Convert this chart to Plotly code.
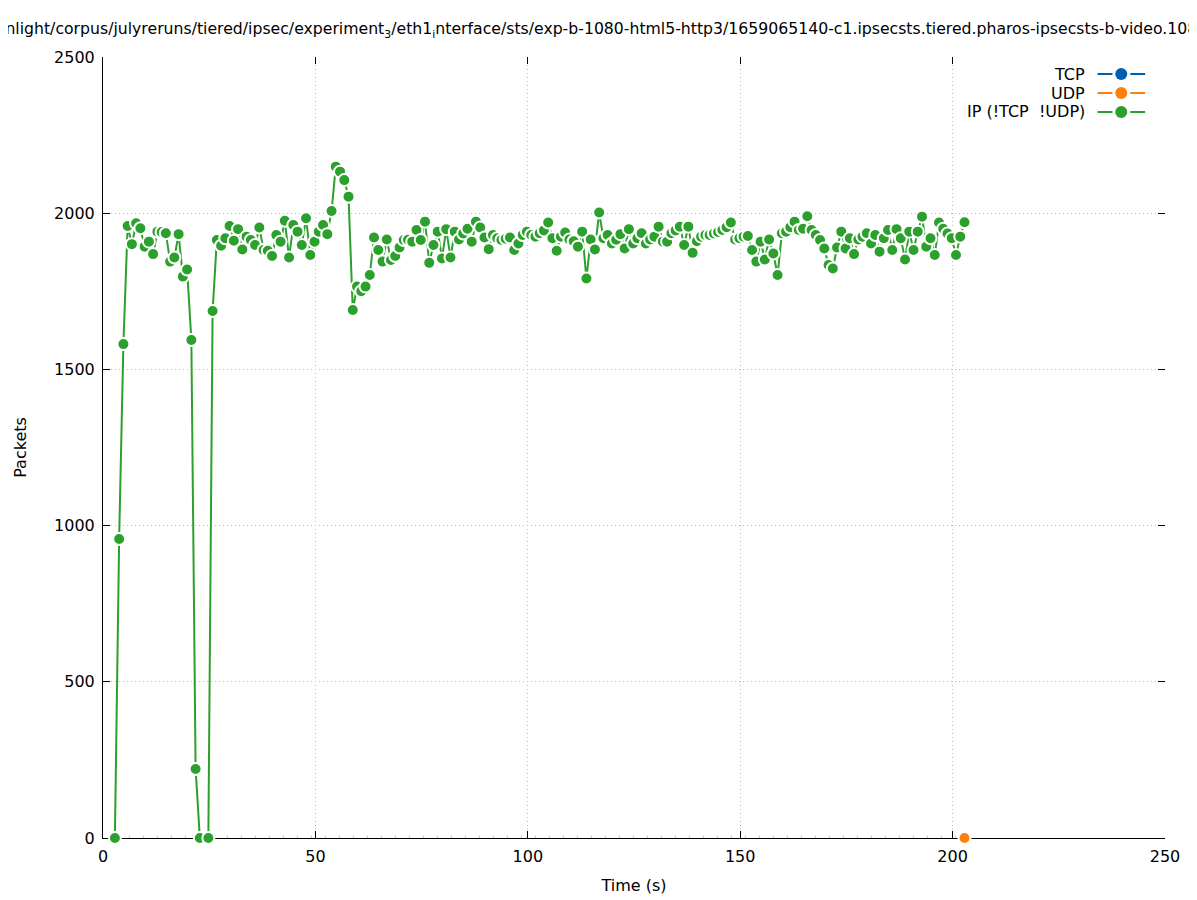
import plotly.graph_objects as go

# ---------------- data ----------------
times = [
    2.8, 3.8, 4.8, 5.8, 6.8, 7.8, 8.8, 9.8, 10.8, 11.8,
    12.8, 13.8, 14.8, 15.8, 16.8, 17.8, 18.8, 19.8, 20.8, 21.8,
    22.8, 24.8, 25.8, 26.8, 27.8, 28.8, 29.8, 30.8, 31.8,
    32.8, 33.8, 34.8, 35.8, 36.8, 37.8, 38.8, 39.8, 40.8, 41.8,
    42.8, 43.8, 44.8, 45.8, 46.8, 47.8, 48.8, 49.8, 50.8, 51.8,
    52.8, 53.8, 54.8, 55.8, 56.8, 57.8, 58.8, 59.8, 60.8, 61.8,
    62.8, 63.8, 64.8, 65.8, 66.8, 67.8, 68.8, 69.8, 70.8, 71.8,
    72.8, 73.8, 74.8, 75.8, 76.8, 77.8, 78.8, 79.8, 80.8, 81.8,
    82.8, 83.8, 84.8, 85.8, 86.8, 87.8, 88.8, 89.8, 90.8, 91.8,
    92.8, 93.8, 94.8, 95.8, 96.8, 97.8, 98.8, 99.8, 100.8, 101.8,
    102.8, 103.8, 104.8, 105.8, 106.8, 107.8, 108.8, 109.8, 110.8, 111.8,
    112.8, 113.8, 114.8, 115.8, 116.8, 117.8, 118.8, 119.8, 120.8, 121.8,
    122.8, 123.8, 124.8, 125.8, 126.8, 127.8, 128.8, 129.8, 130.8, 131.8,
    132.8, 133.8, 134.8, 135.8, 136.8, 137.8, 138.8, 139.8, 140.8, 141.8,
    142.8, 143.8, 144.8, 145.8, 146.8, 147.8, 148.8, 149.8, 150.8, 151.8,
    152.8, 153.8, 154.8, 155.8, 156.8, 157.8, 158.8, 159.8, 160.8, 161.8,
    162.8, 163.8, 164.8, 165.8, 166.8, 167.8, 168.8, 169.8, 170.8, 171.8,
    172.8, 173.8, 174.8, 175.8, 176.8, 177.8, 178.8, 179.8, 180.8, 181.8,
    182.8, 183.8, 184.8, 185.8, 186.8, 187.8, 188.8, 189.8, 190.8, 191.8,
    192.8, 193.8, 194.8, 195.8, 196.8, 197.8, 198.8, 199.8, 200.8, 201.8,
    202.8,
]

ip_packets = [
    0, 957, 1581, 1959, 1901, 1968, 1952, 1893, 1909, 1869,
    1941, 1940, 1936, 1845, 1858, 1933, 1797, 1820, 1594, 221,
    0, 0, 1687, 1914, 1896, 1920, 1959, 1912, 1949,
    1884, 1925, 1914, 1898, 1954, 1882, 1880, 1863, 1930, 1909,
    1976, 1858, 1962, 1941, 1898, 1984, 1866, 1909, 1941, 1962,
    1933, 2007, 2149, 2133, 2106, 2053, 1690, 1765, 1750, 1765,
    1802, 1922, 1882, 1845, 1916, 1850, 1863, 1890, 1914, 1915,
    1909, 1946, 1914, 1973, 1841, 1898, 1941, 1855, 1949, 1858,
    1941, 1916, 1935, 1950, 1909, 1973, 1954, 1922, 1885, 1930,
    1920, 1914, 1918, 1922, 1882, 1903, 1930, 1941, 1930, 1925,
    1936, 1945, 1970, 1920, 1880, 1925, 1938, 1916, 1910, 1893,
    1941, 1791, 1916, 1884, 2002, 1920, 1930, 1903, 1915, 1933,
    1887, 1949, 1903, 1920, 1936, 1903, 1916, 1925, 1957, 1909,
    1909, 1936, 1945, 1957, 1898, 1957, 1873, 1910, 1925, 1930,
    1930, 1935, 1940, 1946, 1955, 1970, 1916, 1920, 1925, 1927,
    1882, 1845, 1909, 1852, 1916, 1871, 1802, 1936, 1941, 1955,
    1973, 1946, 1950, 1990, 1946, 1930, 1914, 1887, 1834, 1823,
    1890, 1941, 1887, 1920, 1869, 1916, 1925, 1936, 1903, 1930,
    1877, 1920, 1946, 1882, 1949, 1920, 1852, 1941, 1882, 1941,
    1989, 1893, 1920, 1866, 1970, 1950, 1935, 1920, 1866, 1925,
    1971,
]

udp_packets = [0] * len(times)

series_names = ["TCP", "UDP", "IP (!TCP  !UDP)"]
series_colors = ["#0060ad", "#ff7f0e", "#2ca02c"]

x_ticks = [0, 50, 100, 150, 200, 250]
y_ticks = [0, 500, 1000, 1500, 2000, 2500]

title_text = ("/mnt/data/moonlight/corpus/julyreruns/tiered/ipsec/experiment<sub>3</sub>/"
              "eth1<sub>i</sub>nterface/sts/exp-b-1080-html5-http3/"
              "1659065140-c1.ipsecsts.tiered.pharos-ipsecsts-b-video.1080p.sts.pcapng")

FONT = "DejaVu Sans"
W, H = 1197, 900

fig = go.Figure()

# UDP baseline (fragments along the axis)
fig.add_trace(go.Scatter(
    x=times, y=udp_packets, mode="lines",
    line=dict(color="rgba(255,127,14,0.55)", width=5, dash="1px,13px"),
    showlegend=False, cliponaxis=False, hoverinfo="skip",
))

# IP series
fig.add_trace(go.Scatter(
    x=times, y=ip_packets, mode="lines+markers",
    line=dict(color=series_colors[2], width=2),
    marker=dict(symbol="circle", size=12, color=series_colors[2],
                line=dict(color="white", width=2)),
    showlegend=False, cliponaxis=False,
))

# UDP last point marker
fig.add_trace(go.Scatter(
    x=[times[-1]], y=[udp_packets[-1]], mode="markers",
    marker=dict(symbol="circle", size=12, color=series_colors[1],
                line=dict(color="white", width=2)),
    showlegend=False, cliponaxis=False,
))

# dummy trace for mirrored tick axes
fig.add_trace(go.Scatter(x=[None], y=[None], xaxis="x2", yaxis="y2",
                         showlegend=False, hoverinfo="skip"))

# custom legend (text left of symbol, like gnuplot)
leg_text_x = 0.927
leg_seg1 = (0.9364, 0.9505)
leg_seg2 = (0.9673, 0.9813)
leg_mark = 0.9588
leg_rows = [0.9782, 0.9539, 0.9296]
shapes = []
annotations = []
for name, col, yy in zip(series_names, series_colors, leg_rows):
    annotations.append(dict(
        x=leg_text_x, y=yy, xref="paper", yref="paper", text=name,
        showarrow=False, xanchor="right", yanchor="middle",
        font=dict(family=FONT, size=16, color="black"),
    ))
    for seg in (leg_seg1, leg_seg2):
        shapes.append(dict(type="line", xref="paper", yref="paper",
                           x0=seg[0], x1=seg[1], y0=yy, y1=yy,
                           line=dict(color=col, width=2)))
    shapes.append(dict(type="circle", xref="paper", yref="paper",
                       xsizemode="pixel", ysizemode="pixel",
                       xanchor=leg_mark, yanchor=yy,
                       x0=-6, x1=6, y0=-6, y1=6,
                       fillcolor=col, line=dict(color=col, width=0)))

axis_common = dict(
    showgrid=True, gridcolor="#bdbdbd", griddash="1px,3px", gridwidth=1,
    zeroline=False, showline=True, linecolor="black", linewidth=1,
    ticks="inside", ticklen=7, tickcolor="black", tickwidth=1,
    tickfont=dict(family=FONT, size=16, color="black"),
    layer="below traces",
)

fig.update_layout(
    width=W, height=H,
    paper_bgcolor="white", plot_bgcolor="white",
    margin=dict(l=88, r=40, t=49, b=70),
    title=dict(text=title_text, x=590 / W, xref="container", xanchor="center",
               y=1 - 21 / H, yanchor="middle",
               font=dict(family=FONT, size=15.7, color="black")),
    xaxis=dict(range=[0, 250], tickvals=x_ticks, ticklabelstandoff=4,
               title=dict(text="Time (s)", font=dict(family=FONT, size=16, color="black"),
                          standoff=14),
               **axis_common),
    yaxis=dict(range=[0, 2500], tickvals=y_ticks, ticklabelstandoff=4,
               title=dict(text="Packets", font=dict(family=FONT, size=16, color="black"),
                          standoff=23),
               **axis_common),
    xaxis2=dict(overlaying="x", side="top", range=[0, 250], tickvals=x_ticks,
                showticklabels=False, showgrid=False, zeroline=False, showline=False,
                ticks="inside", ticklen=7, tickcolor="black"),
    yaxis2=dict(overlaying="y", side="right", range=[0, 2500], tickvals=y_ticks,
                showticklabels=False, showgrid=False, zeroline=False, showline=False,
                ticks="inside", ticklen=7, tickcolor="black"),
    shapes=shapes,
    annotations=annotations,
    showlegend=False,
)

fig.write_html("out.html")
